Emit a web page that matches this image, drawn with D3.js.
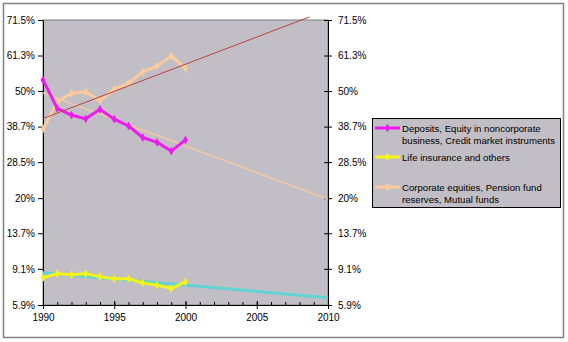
<!DOCTYPE html>
<html>
<head>
<meta charset="utf-8">
<script src="https://cdn.jsdelivr.net/npm/d3@7"></script>
<style>
  html, body { margin: 0; padding: 0; background: #ffffff; }
  svg { display: block; }
  text { font-family: "Liberation Sans", Arial, sans-serif; fill: #000; }
</style>
</head>
<body>
<svg id="chart" width="568" height="342"></svg>
<script>
// ---- data ----
const years = [1990, 1991, 1992, 1993, 1994, 1995, 1996, 1997, 1998, 1999, 2000];
const deposits = [53.6, 44.4, 42.3, 41.1, 44.1, 41.0, 38.9, 35.4, 34.0, 31.5, 34.7];
const lifeInsurance = [8.2, 8.6, 8.5, 8.6, 8.3, 8.1, 8.1, 7.7, 7.5, 7.2, 7.8];
const corporate = [37.9, 46.5, 49.3, 49.8, 46.9, 50.6, 52.5, 56.2, 58.0, 61.2, 57.3];
// trend lines (start / end)
const trendYearsCorporate = [1990, 2008.7];
const trendCorporate = [41.2, 72.3];
const trendYearsDeposits = [1990, 2010];
const trendDeposits = [49.4, 19.8];
const trendYearsLife = [1990, 2010];
const trendLife = [8.7, 6.45];
const yTickLabels = ["5.9%", "9.1%", "13.7%", "20%", "28.5%", "38.7%", "50%", "61.3%", "71.5%"];
const yTickValues = [5.9, 9.1, 13.7, 20, 28.5, 38.7, 50, 61.3, 71.5];
const xTickValues = [1990, 1995, 2000, 2005, 2010];
const legendLabels = [
  ["Deposits, Equity in noncorporate", "business, Credit market instruments"],
  ["Life insurance and others"],
  ["Corporate equities, Pension fund", "reserves, Mutual funds"]
];

// ---- layout ----
const svg = d3.select("#chart");
const plot = {left: 43, right: 328, top: 20, bottom: 305};
const logit = p => Math.log(p / (1 - p));
const x = d3.scaleLinear().domain([1990, 2010]).range([plot.left, plot.right]);
const yl = d3.scaleLinear().domain([logit(0.059), logit(0.715)]).range([plot.bottom, plot.top]);
const y = v => yl(logit(v / 100));

// outer border
svg.append("rect").attr("x", 3.5).attr("y", 3.5).attr("width", 560).attr("height", 334)
  .attr("fill", "#fff").attr("stroke", "#808080").attr("stroke-width", 1.5);

// plot area
svg.append("rect").attr("x", plot.left).attr("y", plot.top)
  .attr("width", plot.right - plot.left).attr("height", plot.bottom - plot.top)
  .attr("fill", "#c1bec5").attr("stroke", "#808080").attr("stroke-width", 1);

// axes
const leftAxis = d3.axisLeft(d3.scaleLinear().domain(yl.domain()).range(yl.range()))
  .tickValues(yTickValues.map(v => logit(v / 100)))
  .tickFormat((d, i) => yTickLabels[i]).tickSizeInner(5).tickSizeOuter(0).tickPadding(3);
const gl = svg.append("g").attr("transform", `translate(${plot.left},0)`).call(leftAxis);
const rightAxis = d3.axisRight(d3.scaleLinear().domain(yl.domain()).range(yl.range()))
  .tickValues(yTickValues.map(v => logit(v / 100)))
  .tickFormat((d, i) => yTickLabels[i]).tickSizeInner(4).tickSizeOuter(0).tickPadding(6);
const gr = svg.append("g").attr("transform", `translate(${plot.right},0)`).call(rightAxis);
gr.selectAll(".tick line").attr("x1", -4);

const bottomMinor = d3.axisBottom(x).tickValues(d3.range(1990, 2011)).tickSize(0).tickFormat("");
const gbm = svg.append("g").attr("transform", `translate(0,${plot.bottom})`).call(bottomMinor);
gbm.selectAll(".tick line").attr("y1", -3).attr("y2", 0);
const bottomAxis = d3.axisBottom(x).tickValues(xTickValues).tickFormat(d3.format("d"))
  .tickSizeInner(4).tickSizeOuter(0).tickPadding(5);
const gb = svg.append("g").attr("transform", `translate(0,${plot.bottom})`).call(bottomAxis);
gb.selectAll(".tick line").attr("y1", -4);

[gl, gr, gb, gbm].forEach(g => {
  g.selectAll(".domain").attr("stroke", "#000").attr("stroke-width", 1);
  g.selectAll(".tick line").attr("stroke", "#000");
  g.selectAll("text").style("font-size", "10px").attr("fill", "#000")
    .style("font-family", "'Liberation Sans', Arial, sans-serif");
});

// trend lines
const lineGen = d3.line().x(d => x(d[0])).y(d => y(d[1]));
function trend(ys, vs, color, w) {
  svg.append("path").datum(ys.map((yr, i) => [yr, vs[i]]))
    .attr("d", lineGen).attr("fill", "none").attr("stroke", color).attr("stroke-width", w);
}
trend(trendYearsLife, trendLife, "#63d2d2", 3);
trend(trendYearsDeposits, trendDeposits, "#f7c9a0", 1.5);

// series
const series = [
  {vals: corporate, color: "#fccb9c"},
  {vals: deposits, color: "#ee1bee"},
  {vals: lifeInsurance, color: "#f4f41a"}
];
function drawSeries(s) {
  const pts = years.map((yr, i) => [yr, s.vals[i]]);
  svg.append("path").datum(pts).attr("d", lineGen).attr("fill", "none")
    .attr("stroke", s.color).attr("stroke-width", 3).attr("stroke-linejoin", "round");
  svg.append("g").selectAll("path").data(pts).join("path")
    .attr("transform", d => `translate(${x(d[0])},${y(d[1])})`)
    .attr("d", d3.symbol(d3.symbolDiamond, 22)).attr("fill", s.color);
}
series.forEach(drawSeries);
trend(trendYearsCorporate, trendCorporate, "#bc4040", 1);

// legend
const lg = svg.append("g");
lg.append("rect").attr("x", 372.5).attr("y", 118.5).attr("width", 188).attr("height", 89)
  .attr("fill", "#c1bec5").attr("stroke", "#000").attr("stroke-width", 1);
const legendItems = [
  {color: "#ee1bee", y: 128},
  {color: "#f4f41a", y: 157},
  {color: "#fccb9c", y: 187}
];
legendItems.forEach((it, i) => {
  lg.append("line").attr("x1", 375).attr("x2", 400).attr("y1", it.y).attr("y2", it.y)
    .attr("stroke", it.color).attr("stroke-width", 3);
  lg.append("path").attr("transform", `translate(387.5,${it.y})`)
    .attr("d", d3.symbol(d3.symbolDiamond, 22)).attr("fill", it.color);
  legendLabels[i].forEach((t, j) => {
    lg.append("text").attr("x", 402).attr("y", it.y + 3.5 + j * 12)
      .style("font-size", "9.6px").attr("fill", "#111").text(t);
  });
});
</script>
</body>
</html>
